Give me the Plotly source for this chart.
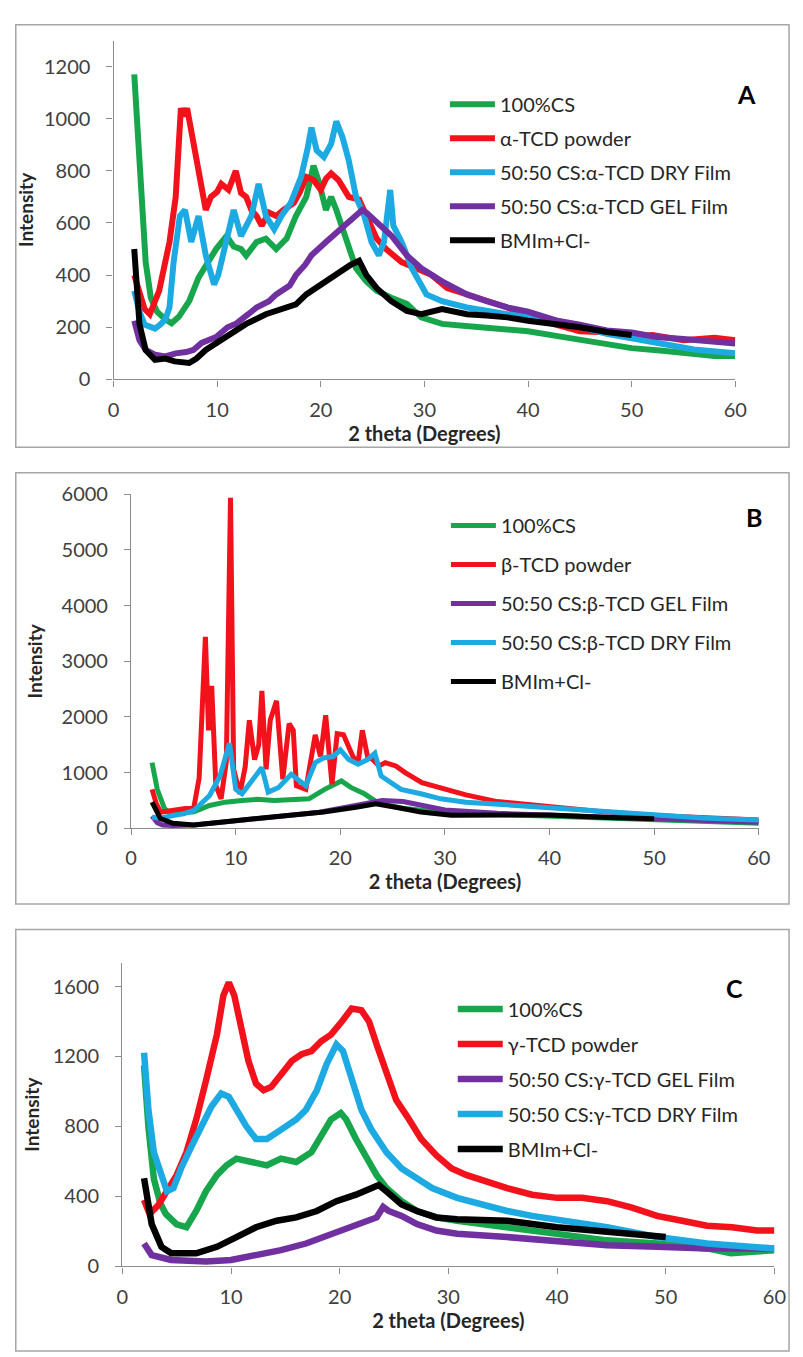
import plotly.graph_objects as go

W, H = 803, 1357

# ---------------- Panel A data ----------------
A_green_x = [2, 2.3, 2.6, 3.1, 3.6, 4.2, 5.0, 5.6, 6.3, 7.3, 8.2, 8.9, 9.9, 10.9, 11.6, 12.3, 12.8, 13.8, 14.7, 15.7, 16.7, 17.6, 18.6, 19.3, 19.8, 20.5, 21.0, 21.5, 22.0, 22.9, 23.4, 24.4, 25.4, 26.8, 28.3, 29.7, 31.7, 34, 37, 40, 43, 46, 50, 53, 56, 58, 60]
A_green_y = [1170, 950, 777, 451, 313, 260, 230, 215, 240, 300, 390, 440, 500, 550, 510, 500, 475, 527, 540, 500, 540, 627, 700, 820, 760, 650, 700, 650, 590, 500, 426, 376, 340, 313, 290, 238, 213, 205, 195, 185, 165, 145, 120, 110, 95, 90, 90]

A_red_x = [2, 2.5, 3.0, 3.5, 4.4, 5.4, 6.0, 6.5, 6.8, 7.1, 7.6, 8.2, 8.9, 9.4, 10.0, 10.4, 11.1, 11.8, 12.3, 12.8, 13.3, 13.8, 14.3, 15.0, 15.7, 16.4, 17.4, 18.0, 18.6, 19.3, 20.0, 20.5, 21.0, 21.7, 22.2, 22.7, 23.7, 24.4, 25.4, 26.3, 27.8, 29.2, 30.7, 32.2, 34.1, 36, 38, 40, 42, 45, 48, 50, 52, 55, 58, 60]
A_red_y = [400, 330, 270, 250, 340, 527, 700, 1040, 1010, 1040, 928, 777, 650, 700, 720, 750, 727, 800, 715, 700, 650, 627, 590, 640, 627, 650, 677, 720, 777, 765, 727, 770, 790, 765, 730, 700, 690, 627, 540, 500, 450, 426, 400, 350, 326, 300, 276, 240, 220, 185, 180, 163, 170, 150, 160, 150]

A_blue_x = [2, 2.5, 3, 3.5, 4, 4.5, 5.0, 5.4, 5.8, 6.4, 6.9, 7.5, 8.2, 8.9, 9.7, 10.1, 10.9, 11.6, 12.3, 13.3, 14.0, 14.7, 15.5, 16.2, 17.1, 18.1, 18.7, 19.1, 19.6, 20.3, 21.0, 21.5, 22.1, 22.7, 23.4, 24.2, 24.9, 25.6, 26.1, 26.7, 27.0, 27.8, 28.8, 30.2, 31.7, 34.1, 38, 42.7, 47.6, 52.4, 56, 60]
A_blue_y = [340, 260, 210, 200, 195, 210, 230, 276, 451, 627, 650, 527, 627, 476, 364, 400, 527, 650, 550, 627, 750, 627, 576, 627, 677, 777, 880, 966, 878, 853, 903, 990, 928, 840, 700, 627, 527, 476, 527, 727, 590, 527, 426, 326, 300, 276, 250, 226, 175, 138, 115, 100]

A_purple_x = [2, 2.5, 3.1, 4, 5, 6, 7, 7.7, 8.5, 9.9, 11, 11.8, 13, 13.8, 15, 15.7, 17, 17.6, 18.5, 19.1, 20.5, 22.0, 23.0, 23.4, 24.0, 24.4, 25.4, 26.8, 28.3, 29.7, 31.7, 34.1, 36, 38, 40, 42.7, 45, 47.6, 50, 52.4, 55, 58, 60]
A_purple_y = [225, 150, 113, 95, 88, 100, 105, 113, 140, 163, 200, 213, 250, 276, 300, 326, 360, 400, 440, 476, 527, 577, 610, 627, 650, 640, 602, 552, 476, 426, 376, 326, 300, 276, 260, 226, 210, 188, 180, 163, 155, 145, 138]

A_black_x = [2, 2.2, 2.5, 3.1, 4.0, 5.0, 5.9, 7.3, 8.0, 8.9, 10.9, 12.8, 14.7, 16.7, 17.6, 18.6, 20.0, 21.5, 22.9, 23.7, 24.4, 25.4, 26.8, 28.3, 29.7, 31.7, 34.1, 36, 38, 40, 42.7, 45, 47.6, 50]
A_black_y = [500, 380, 213, 113, 75, 80, 69, 63, 80, 113, 163, 213, 250, 276, 288, 326, 364, 400, 440, 455, 400, 350, 300, 263, 250, 270, 250, 245, 238, 225, 213, 200, 182, 170]

# ---------------- Panel B data ----------------
B_green_x = [2, 2.5, 3.2, 3.8, 5, 6, 7.5, 9, 10.6, 12, 13.7, 15.5, 17, 18.5, 19.5, 20.1, 21.0, 22.3, 23.5, 24.6, 26, 27.7, 30.6, 35, 40, 45, 50, 55, 60]
B_green_y = [1180, 700, 350, 265, 280, 295, 410, 470, 500, 520, 500, 520, 530, 700, 800, 850, 735, 620, 470, 410, 360, 320, 265, 250, 220, 180, 150, 110, 90]

B_red_x = [2, 2.4, 2.8, 4, 5, 6.0, 6.5, 6.8, 7.1, 7.4, 7.7, 8.1, 8.6, 9.1, 9.5, 9.8, 10.4, 10.9, 11.3, 11.8, 12.2, 12.5, 12.9, 13.3, 13.9, 14.5, 15.1, 15.5, 15.8, 16.7, 17.6, 18.1, 18.6, 19.2, 19.7, 20.3, 20.8, 21.2, 21.7, 22.1, 22.6, 23.1, 23.7, 24.3, 25.3, 26.2, 27.8, 29.3, 30.6, 32, 35, 40, 45, 50, 55, 60]
B_red_y = [700, 450, 290, 320, 340, 380, 900, 2300, 3440, 1760, 2560, 765, 530, 1200, 5940, 1060, 620, 1100, 1940, 1235, 1500, 2470, 1060, 1940, 2290, 880, 1880, 1760, 765, 700, 1680, 1290, 2030, 790, 1700, 1680, 1470, 1290, 1180, 1760, 1290, 1235, 1120, 1180, 1120, 1000, 820, 735, 680, 600, 480, 380, 300, 230, 180, 150]

B_purple_x = [2, 2.5, 3, 4, 6, 9, 12, 15, 18, 20, 22, 24, 26, 28, 30, 35, 40, 45, 50, 55, 60]
B_purple_y = [220, 100, 60, 50, 60, 110, 170, 230, 290, 360, 430, 500, 480, 400, 330, 270, 240, 200, 160, 130, 110]

B_blue_x = [2, 2.8, 4, 5, 6.0, 7.5, 8.5, 9.1, 9.4, 10.0, 10.6, 11.4, 12.0, 12.5, 13.1, 14.1, 15.3, 16.0, 16.7, 17.6, 18.4, 19.3, 20.0, 20.8, 21.7, 22.6, 23.3, 23.9, 24.6, 25.8, 27.7, 29.6, 32, 35, 40, 45, 50, 55, 60]
B_blue_y = [200, 180, 230, 260, 320, 590, 940, 1290, 1530, 700, 620, 820, 950, 1090, 650, 735, 970, 880, 765, 1180, 1265, 1290, 1410, 1235, 1150, 1235, 1350, 940, 850, 700, 620, 530, 470, 430, 380, 300, 250, 180, 150]

B_black_x = [2, 2.5, 2.8, 4, 6, 9, 12.2, 15.3, 18.4, 21.5, 23.4, 25.3, 27.7, 30.6, 35, 40, 45, 50]
B_black_y = [470, 260, 175, 90, 60, 120, 175, 235, 295, 380, 440, 380, 295, 235, 240, 240, 200, 170]

# ---------------- Panel C data ----------------
C_green_x = [2, 2.4, 2.9, 3.5, 4.0, 5.0, 5.9, 6.8, 7.7, 8.7, 9.6, 10.5, 11.9, 13.3, 14.6, 16.0, 17.4, 18.3, 19.2, 20.1, 20.6, 21.5, 22.5, 23.4, 24.3, 25.7, 27.1, 28.9, 30.8, 35.4, 40, 44.6, 49.2, 53.8, 56, 60]
C_green_y = [1150, 800, 500, 360, 300, 240, 224, 317, 430, 522, 578, 616, 597, 578, 616, 597, 653, 746, 840, 877, 840, 728, 616, 522, 448, 373, 317, 280, 261, 224, 187, 149, 131, 103, 75, 93]

C_red_x = [2, 2.5, 3.3, 4.1, 5.0, 5.9, 6.8, 7.7, 8.7, 9.3, 9.8, 10.3, 11.0, 11.6, 12.3, 13.0, 13.7, 14.6, 15.6, 16.5, 17.4, 18.3, 19.2, 20.2, 21.1, 22.0, 22.7, 23.4, 24.3, 25.2, 26.2, 27.5, 28.9, 30.3, 31.7, 33.5, 35.4, 37.7, 40.0, 42.3, 44.6, 46.9, 49.2, 51.5, 53.8, 56.1, 58.4, 60]
C_red_y = [380, 300, 350, 430, 522, 653, 840, 1063, 1325, 1549, 1623, 1549, 1362, 1175, 1045, 1007, 1026, 1100, 1175, 1213, 1231, 1287, 1325, 1400, 1474, 1464, 1400, 1269, 1100, 951, 858, 728, 634, 560, 522, 485, 448, 410, 392, 392, 373, 336, 289, 261, 233, 224, 205, 205]

C_purple_x = [2, 2.7, 4.5, 7.7, 10.0, 12.3, 14.6, 16.9, 19.2, 21.5, 23.4, 24.0, 24.5, 25.7, 27.1, 28.9, 30.8, 35.4, 40, 44.6, 49.2, 53.8, 60]
C_purple_y = [131, 65, 37, 28, 37, 65, 93, 131, 187, 242, 280, 340, 317, 289, 242, 205, 187, 168, 140, 121, 112, 103, 103]

C_blue_x = [2, 2.4, 2.9, 3.6, 4.1, 4.7, 5.4, 6.4, 7.3, 8.2, 9.1, 9.8, 10.5, 11.4, 12.3, 13.3, 14.2, 15.1, 16.0, 16.9, 17.9, 18.8, 19.7, 20.3, 21.1, 22.0, 22.9, 24.3, 25.7, 27.1, 28.5, 30.8, 33.1, 35.4, 37.7, 40.0, 44.6, 49.2, 53.8, 60]
C_blue_y = [1222, 896, 653, 504, 430, 448, 560, 690, 802, 914, 989, 970, 896, 802, 728, 728, 765, 802, 840, 896, 1007, 1157, 1269, 1231, 1063, 896, 784, 653, 560, 504, 448, 392, 354, 317, 289, 270, 224, 168, 131, 103]

C_black_x = [2, 2.7, 3.6, 4.5, 6.8, 8.7, 10.5, 12.3, 14.2, 16.0, 17.9, 19.7, 21.5, 22.9, 23.6, 24.3, 25.7, 27.1, 28.9, 30.8, 35.4, 40, 44.6, 50]
C_black_y = [504, 242, 112, 75, 75, 112, 168, 224, 261, 280, 317, 373, 410, 448, 466, 429, 354, 317, 280, 270, 261, 224, 196, 168]

# ---------------- labels ----------------
A_names = ["100%CS", "α-TCD powder", "50:50 CS:α-TCD DRY Film", "50:50 CS:α-TCD GEL Film", "BMIm+Cl-"]
B_names = ["100%CS", "β-TCD powder", "50:50 CS:β-TCD GEL Film", "50:50 CS:β-TCD DRY Film", "BMIm+Cl-"]
C_names = ["100%CS", "γ-TCD powder", "50:50 CS:γ-TCD GEL Film", "50:50 CS:γ-TCD DRY Film", "BMIm+Cl-"]
panel_letters = ["A", "B", "C"]
x_ticks = [0, 10, 20, 30, 40, 50, 60]
A_yticks = [0, 200, 400, 600, 800, 1000, 1200]
B_yticks = [0, 1000, 2000, 3000, 4000, 5000, 6000]
C_yticks = [0, 400, 800, 1200, 1600]

GREEN, RED, BLUE, PURPLE, BLACK = "#17A64B", "#F2121B", "#1DAAE3", "#7030A0", "#000000"
FONT = "Lato, 'Open Sans', sans-serif"

fig = go.Figure()

def px_x(p):
    return p / W

def px_y(p):
    return 1 - p / H

panels = [
    dict(series=[(A_green_x, A_green_y, GREEN), (A_red_x, A_red_y, RED), (A_blue_x, A_blue_y, BLUE),
                 (A_purple_x, A_purple_y, PURPLE), (A_black_x, A_black_y, BLACK)],
         names=A_names, x0=110, x1=746, y0=373, y1=28, ymax=1300, yticks=A_yticks,
         legend=dict(x=449, y=73, gap=5), letter=(757, 82), box=(10, 12, 801, 442),
         ytitle_standoff=5, lw=6),
    dict(series=[(B_green_x, B_green_y, GREEN), (B_red_x, B_red_y, RED), (B_purple_x, B_purple_y, PURPLE),
                 (B_blue_x, B_blue_y, BLUE), (B_black_x, B_black_y, BLACK)],
         names=B_names, x0=128, x1=770, y0=830, y1=490, ymax=6000, yticks=B_yticks,
         legend=dict(x=450, y=502, gap=10), letter=(765, 513), box=(10, 468, 801, 907),
         ytitle_standoff=13, lw=5),
    dict(series=[(C_green_x, C_green_y, GREEN), (C_red_x, C_red_y, RED), (C_purple_x, C_purple_y, PURPLE),
                 (C_blue_x, C_blue_y, BLUE), (C_black_x, C_black_y, BLACK)],
         names=C_names, x0=119, x1=786, y0=1276, y1=967, ymax=1735, yticks=C_yticks,
         legend=dict(x=457, y=994, gap=6), letter=(745, 993), box=(10, 933, 801, 1362),
         ytitle_standoff=8, lw=6.5),
]

layout_upd = {}
shapes = []
annotations = []
for i, p in enumerate(panels):
    k = "" if i == 0 else str(i + 1)
    lg = "legend" if i == 0 else "legend" + str(i + 1)
    for j, ((xs, ys, col), nm) in enumerate(zip(p["series"], p["names"])):
        fig.add_trace(go.Scatter(
            x=xs, y=ys, mode="lines", name=nm,
            line=dict(color=col, width=p["lw"]),
            xaxis="x" + k, yaxis="y" + k, legend=lg,
            legendgroup=f"p{i}s{j}",
        ))
    layout_upd["xaxis" + k] = dict(
        domain=[px_x(p["x0"]), px_x(p["x1"])], range=[0, 60], anchor="y" + k,
        tickvals=x_ticks, ticks="outside", ticklen=6, tickcolor="#8C8C8C", tickwidth=1.3,
        showline=True, linecolor="#8C8C8C", linewidth=1.3, showgrid=False, zeroline=False,
        tickfont=dict(family=FONT, size=20, color="#404040"), ticklabelstandoff=6,
        title=dict(text="<b>2 theta (Degrees)</b>", font=dict(family=FONT, size=20, color="#262626"), standoff=4),
        fixedrange=True,
    )
    layout_upd["yaxis" + k] = dict(
        domain=[px_y(p["y0"]), px_y(p["y1"])], range=[0, p["ymax"]], anchor="x" + k,
        tickvals=p["yticks"], ticks="outside", ticklen=6, tickcolor="#8C8C8C", tickwidth=1.3,
        showline=True, linecolor="#8C8C8C", linewidth=1.3, showgrid=False, zeroline=False,
        tickfont=dict(family=FONT, size=20, color="#404040"), ticklabelstandoff=12,
        title=dict(text="<b>Intensity</b>", font=dict(family=FONT, size=19, color="#262626"),
                   standoff=p["ytitle_standoff"]),
        fixedrange=True,
    )
    L = p["legend"]
    layout_upd[lg] = dict(
        x=px_x(L["x"]), y=px_y(L["y"]), xanchor="left", yanchor="top",
        bgcolor="rgba(0,0,0,0)", borderwidth=0, tracegroupgap=L["gap"], itemwidth=45,
        font=dict(family=FONT, size=20, color="#262626"),
        itemclick=False, itemdoubleclick=False,
    )
    bx0, by0, bx1, by1 = p["box"]
    shapes.append(dict(type="rect", xref="paper", yref="paper",
                       x0=px_x(bx0), x1=px_x(bx1), y0=px_y(by1), y1=px_y(by0),
                       line=dict(color="#A6A6A6", width=1.5), layer="below"))
    lx, ly = p["letter"]
    annotations.append(dict(text="<b>" + panel_letters[i] + "</b>", xref="paper", yref="paper",
                            x=px_x(lx), y=px_y(ly), xanchor="center", yanchor="middle",
                            showarrow=False, font=dict(family=FONT, size=25, color="#000000")))

fig.update_layout(
    width=W, height=H, margin=dict(l=0, r=0, t=0, b=0),
    paper_bgcolor="white", plot_bgcolor="white",
    showlegend=True, shapes=shapes, annotations=annotations,
    **layout_upd,
)

fig.write_html("out.html")
